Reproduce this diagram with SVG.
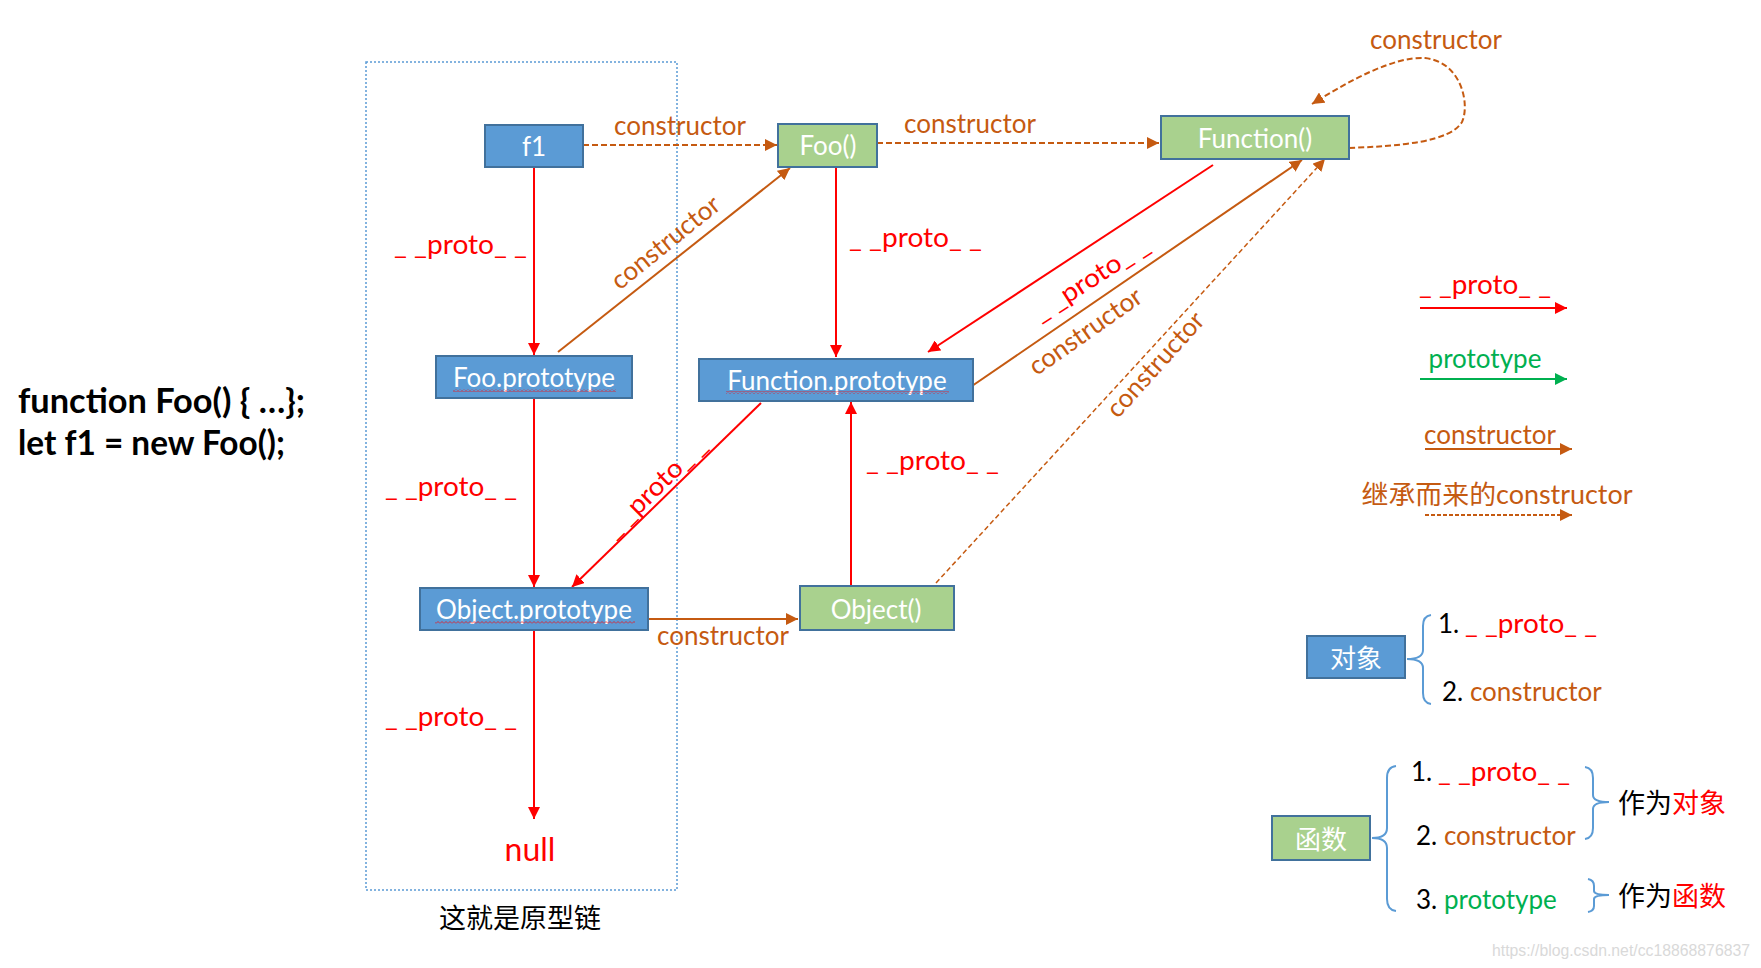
<svg xmlns="http://www.w3.org/2000/svg" width="1761" height="968" viewBox="0 0 1761 968">
<style>
text{font-family:Lato,"Liberation Sans","Noto Sans CJK SC",sans-serif;font-size:26px}
.w{fill:#ffffff}
.r{fill:#ff0000}
.o{fill:#c55a11}
.g{fill:#00b050}
.k{fill:#000000}
.m{text-anchor:middle}
.cjk{font-family:"Noto Sans CJK SC",sans-serif}
.nb{fill:#5b9bd5;stroke:#41719c;stroke-width:2}
.ng{fill:#a9d18e;stroke:#41719c;stroke-width:2}
.lr{fill:none;stroke:#ff0000;stroke-width:2}
.lo{fill:none;stroke:#c55a11;stroke-width:2}
.ld{fill:none;stroke:#c55a11;stroke-width:2;stroke-dasharray:6 3}
.lt{fill:none;stroke:#c55a11;stroke-width:1.5;stroke-dasharray:5 3}
.br{fill:none;stroke:#5b9bd5;stroke-width:2}
</style>
<defs>
<marker id="ar" viewBox="0 0 12 12" refX="12" refY="6" markerWidth="12" markerHeight="12" markerUnits="userSpaceOnUse" orient="auto"><path d="M0,0 L12,6 L0,12 z" fill="#ff0000"/></marker>
<marker id="ao" viewBox="0 0 12 12" refX="12" refY="6" markerWidth="12" markerHeight="12" markerUnits="userSpaceOnUse" orient="auto"><path d="M0,0 L12,6 L0,12 z" fill="#c55a11"/></marker>
<marker id="ag" viewBox="0 0 12 12" refX="12" refY="6" markerWidth="12" markerHeight="12" markerUnits="userSpaceOnUse" orient="auto"><path d="M0,0 L12,6 L0,12 z" fill="#00b050"/></marker>
<pattern id="sq" patternUnits="userSpaceOnUse" width="4" height="3"><path d="M0,2.5 L2,0.5 L4,2.5" fill="none" stroke="#ff0000" stroke-width="0.7"/></pattern>
</defs>
<rect width="1761" height="968" fill="#ffffff"/>

<g id="code">
<text x="18" y="413" style="font-weight:700;font-size:34px" class="k" textLength="287" lengthAdjust="spacingAndGlyphs">function Foo() { …};</text>
<text x="18" y="455" style="font-weight:700;font-size:34px" class="k" textLength="267" lengthAdjust="spacingAndGlyphs">let f1 = new Foo();</text>
</g>

<g id="chain-box">
<rect x="366" y="62" width="311" height="828" fill="none" stroke="#5b9bd5" stroke-width="1.5" stroke-dasharray="2 2"/>
<text x="520" y="928" class="m cjk k" style="font-size:27px">这就是原型链</text>
</g>

<g id="connectors">
<path class="ld" d="M583,145 L777,145" marker-end="url(#ao)"/>
<path class="ld" d="M877,143 L1159,143" marker-end="url(#ao)"/>
<path class="ld" d="M1349,148 C1400,146 1450,142 1462,122 C1470,105 1462,62 1425,58 C1395,56 1350,80 1312,104" marker-end="url(#ao)"/>
<path class="lr" d="M534,167 L534,355" marker-end="url(#ar)"/>
<path class="lo" d="M558,352 L790,168" marker-end="url(#ao)"/>
<path class="lr" d="M836,167 L836,357" marker-end="url(#ar)"/>
<path class="lr" d="M1213,165 L928,352" marker-end="url(#ar)"/>
<path class="lo" d="M972,386 L1302,160" marker-end="url(#ao)"/>
<path class="lt" d="M936,583 L1325,159" marker-end="url(#ao)"/>
<path class="lr" d="M534,398 L534,587" marker-end="url(#ar)"/>
<path class="lr" d="M761,403 L572,587" marker-end="url(#ar)"/>
<path class="lo" d="M648,619 L798,619" marker-end="url(#ao)"/>
<path class="lr" d="M851,586 L851,402" marker-end="url(#ar)"/>
<path class="lr" d="M534,630 L534,819" marker-end="url(#ar)"/>

<text x="680" y="135" class="m o">constructor</text>
<text x="970" y="133" class="m o">constructor</text>
<text x="1436" y="49" class="m o">constructor</text>
<text x="723" y="645" class="m o">constructor</text>
<text x="394" y="254" class="r" textLength="133" lengthAdjust="spacingAndGlyphs">_ _proto_ _</text>
<text x="849" y="247" class="r" textLength="133" lengthAdjust="spacingAndGlyphs">_ _proto_ _</text>
<text x="385" y="496" class="r" textLength="132" lengthAdjust="spacingAndGlyphs">_ _proto_ _</text>
<text x="866" y="470" class="r" textLength="133" lengthAdjust="spacingAndGlyphs">_ _proto_ _</text>
<text x="385" y="726" class="r" textLength="132" lengthAdjust="spacingAndGlyphs">_ _proto_ _</text>
<text transform="translate(666,243) rotate(-39)" x="0" y="8" class="m o">constructor</text>
<text transform="translate(1092,281) rotate(-33)" x="-66" y="6" class="r" textLength="133" lengthAdjust="spacingAndGlyphs">_ _proto_ _</text>
<text transform="translate(1086,332) rotate(-35)" x="0" y="8" class="m o">constructor</text>
<text transform="translate(1156,365) rotate(-48)" x="0" y="8" class="m o">constructor</text>
<text transform="translate(657,489) rotate(-44.5)" x="-66" y="6" class="r" textLength="132" lengthAdjust="spacingAndGlyphs">_ _proto_ _</text>
<text x="530" y="861" class="m r" style="font-size:32px">null</text>
</g>

<g id="f1">
<rect class="nb" x="485" y="125" width="98" height="42"/>
<text x="534" y="156" class="m w">f1</text>
</g>
<g id="Foo">
<rect class="ng" x="778" y="124" width="99" height="43"/>
<text x="828" y="155" class="m w">Foo()</text>
</g>
<g id="Function">
<rect class="ng" x="1161" y="116" width="188" height="43"/>
<text x="1255" y="148" class="m w">Function()</text>
</g>
<g id="Foo.prototype">
<rect class="nb" x="436" y="356" width="196" height="42"/>
<text x="534" y="387" class="m w">Foo.prototype</text>
<rect x="453" y="389" width="163" height="3" fill="url(#sq)"/>
</g>
<g id="Function.prototype">
<rect class="nb" x="699" y="359" width="274" height="42"/>
<text x="837" y="390" class="m w">Function.prototype</text>
<rect x="726" y="391" width="223" height="3" fill="url(#sq)"/>
</g>
<g id="Object.prototype">
<rect class="nb" x="420" y="588" width="228" height="42"/>
<text x="534" y="619" class="m w">Object.prototype</text>
<rect x="435" y="621" width="200" height="3" fill="url(#sq)"/>
</g>
<g id="Object">
<rect class="ng" x="800" y="586" width="154" height="44"/>
<text x="876" y="619" class="m w">Object()</text>
</g>

<g id="legend">
<text x="1419" y="294" class="r" textLength="132" lengthAdjust="spacingAndGlyphs">_ _proto_ _</text>
<path class="lr" d="M1420,308 L1567,308" marker-end="url(#ar)"/>
<text x="1485" y="368" class="m g">prototype</text>
<path d="M1420,379 L1567,379" fill="none" stroke="#00b050" stroke-width="2" marker-end="url(#ag)"/>
<text x="1490" y="444" class="m o">constructor</text>
<path class="lo" d="M1425,449 L1572,449" marker-end="url(#ao)"/>
<text x="1497" y="504" class="m o" textLength="271" lengthAdjust="spacingAndGlyphs">继承而来的constructor</text>
<path d="M1425,515 L1572,515" fill="none" stroke="#c55a11" stroke-width="2" stroke-dasharray="4 2" marker-end="url(#ao)"/>
</g>

<g id="object-note">
<rect class="nb" x="1307" y="636" width="98" height="42"/>
<text x="1356" y="668" class="m w cjk">对象</text>
<path class="br" d="M1431,615 Q1423,616 1423,626 L1423,650 Q1423,659 1407,659 Q1423,659 1423,668 L1423,693 Q1423,703 1431,704"/>
<text x="1438" y="633" class="k">1.</text>
<text x="1465" y="633" class="r" textLength="132" lengthAdjust="spacingAndGlyphs">_ _proto_ _</text>
<text x="1442" y="701" class="k">2. <tspan class="o">constructor</tspan></text>
</g>

<g id="function-note">
<rect class="ng" x="1272" y="816" width="98" height="44"/>
<text x="1321" y="849" class="m w cjk">函数</text>
<path class="br" d="M1396,766 Q1387,767 1387,778 L1387,828 Q1387,838 1372,838 Q1387,838 1387,848 L1387,899 Q1387,910 1396,911"/>
<text x="1411" y="781" class="k">1.</text>
<text x="1438" y="781" class="r" textLength="132" lengthAdjust="spacingAndGlyphs">_ _proto_ _</text>
<text x="1416" y="845" class="k">2. <tspan class="o">constructor</tspan></text>
<text x="1416" y="909" class="k">3. <tspan class="g">prototype</tspan></text>
<path class="br" d="M1585,767 Q1593,768 1593,778 L1593,795 Q1593,802 1609,802 Q1593,802 1593,809 L1593,828 Q1593,838 1585,839"/>
<path class="br" d="M1588,879 Q1594,880 1594,886 L1594,891 Q1594,895 1609,895 Q1594,895 1594,899 L1594,906 Q1594,911 1588,912"/>
<text x="1618" y="813" class="k cjk" style="font-size:27px">作为<tspan class="r">对象</tspan></text>
<text x="1618" y="906" class="k cjk" style="font-size:27px">作为<tspan class="r">函数</tspan></text>
</g>

<text x="1492" y="956" style="font-family:'Liberation Sans',sans-serif;font-size:16px" fill="#d9d9d9" textLength="258" lengthAdjust="spacingAndGlyphs">https://blog.csdn.net/cc18868876837</text>
</svg>
